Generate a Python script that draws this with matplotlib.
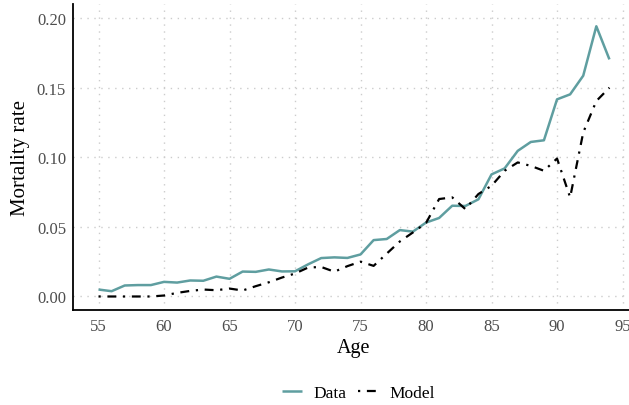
import matplotlib
matplotlib.use("Agg")
import matplotlib.pyplot as plt

age = list(range(55, 95))
data_rate = [0.0050, 0.0038, 0.0079, 0.0082, 0.0082, 0.0105, 0.0100, 0.0115, 0.0113, 0.0143,
             0.0127, 0.0179, 0.0177, 0.0194, 0.0180, 0.0181, 0.0231, 0.0276, 0.0281, 0.0277,
             0.0302, 0.0405, 0.0413, 0.0477, 0.0466, 0.0531, 0.0564, 0.0652, 0.0650, 0.0698,
             0.0877, 0.0920, 0.1046, 0.1110, 0.1122, 0.1416, 0.1452, 0.1586, 0.1941, 0.1703]
model_rate = [0.0000, 0.0000, 0.0000, 0.0000, 0.0000, 0.0007, 0.0026, 0.0040, 0.0050, 0.0045,
              0.0057, 0.0043, 0.0074, 0.0102, 0.0136, 0.0165, 0.0208, 0.0212, 0.0178, 0.0218,
              0.0250, 0.0220, 0.0308, 0.0395, 0.0460, 0.0528, 0.0700, 0.0712, 0.0628, 0.0736,
              0.0795, 0.0903, 0.0963, 0.0938, 0.0903, 0.0991, 0.0712, 0.1178, 0.1404, 0.1500]
xticks = [55, 60, 65, 70, 75, 80, 85, 90, 95]
yticks = [0.00, 0.05, 0.10, 0.15, 0.20]

plt.rcParams['font.family'] = ['Liberation Serif', 'DejaVu Serif']

fig = plt.figure(figsize=(6.29, 4.06), dpi=100)
ax = fig.add_axes([0.116, 0.234, 0.8935, 0.7537])

ax.plot(age, data_rate, color='#5F9EA0', lw=1.8, label='Data', solid_capstyle='butt')
ax.plot(age, model_rate, color='black', lw=1.6, linestyle=(0, (1, 3, 4, 3)), label='Model')

ax.set_xlim(53.05, 95.95)
ax.set_ylim(-0.0097, 0.2101)
ax.set_xticks(xticks)
ax.set_yticks(yticks)
ax.set_xticklabels([str(t) for t in xticks])
ax.set_yticklabels([f"{t:.2f}" for t in yticks])
ax.tick_params(length=0, labelsize=12, labelcolor='#4D4D4D')
ax.tick_params(axis='x', pad=6)
ax.tick_params(axis='y', pad=5)
ax.grid(True, color='#CCCCCC', linestyle=(0, (1, 4)), lw=1.0)
ax.set_axisbelow(True)
for s in ['top', 'right']:
    ax.spines[s].set_visible(False)
for s in ['left', 'bottom']:
    ax.spines[s].set_linewidth(1.3)
    ax.spines[s].set_color('black')

ax.set_xlabel('Age', fontsize=14.5, labelpad=3)
ax.set_ylabel('Mortality rate', fontsize=15, labelpad=5)

fig.legend(loc='center', bbox_to_anchor=(0.570, 0.030), ncol=2, frameon=False,
           fontsize=12.5, handlelength=1.15, handletextpad=0.65, columnspacing=0.7)

fig.savefig('out.png', dpi=100)
